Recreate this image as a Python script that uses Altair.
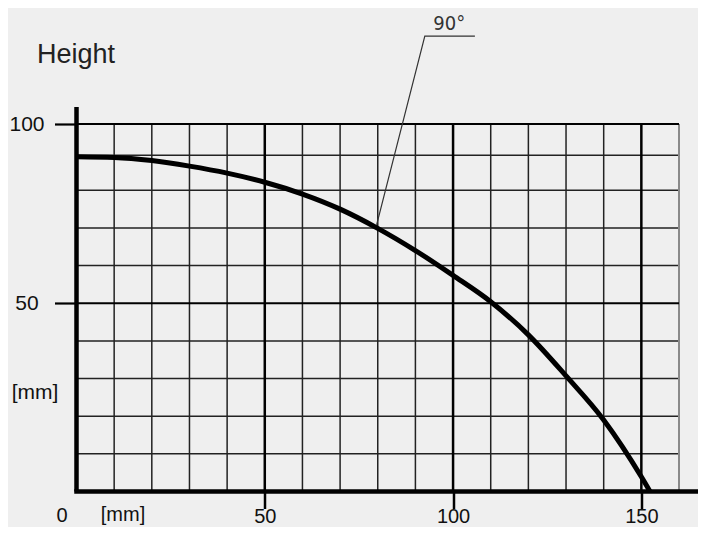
import altair as alt
import pandas as pd

# ---- data ----
dist_mm = [0, 10, 20, 30, 40, 50, 60, 70, 80, 90, 100, 110, 120, 130, 140, 150, 152.3]
height_mm = [89.6, 89.4, 88.5, 86.9, 84.9, 82.3, 79.0, 75.0, 69.9, 64.0, 57.4, 50.4,
             41.6, 30.7, 19.0, 3.9, 0]

x_tick_values = [50, 100, 150]
y_tick_values = [100, 50]

v_grid_thin = [10, 20, 30, 40, 60, 70, 80, 90, 110, 120, 130, 140]
v_grid_thick = [50, 100, 150]
v_grid_edge = [160]
h_grid_thin = [10, 20, 30, 40, 60, 70, 80, 90]
h_grid_thick = [50, 100]

angle_label = ["90°"]
leader_x = [105.8, 92.5, 79.7]
leader_y = [128.1, 128.1, 70.8]

title_text = ["Height"]
unit_text = ["[mm]"]
origin_text = ["0"]

# ---- scales & axes ----
xs = alt.Scale(domain=[0, 160], nice=False, zero=False)
ys = alt.Scale(domain=[0, 80, 90, 100], range=[367.5, 66.3, 31.3, 0], nice=False, zero=False)

FONT = "Liberation Sans, Arial, sans-serif"

xa = alt.Axis(
    values=x_tick_values, domain=False, grid=False, tickSize=17, tickWidth=2.5,
    tickColor="#000000", labelFontSize=20, labelFont=FONT, labelColor="#111111",
    labelPadding=-2, labelFlush=False, title=None)
ya = alt.Axis(
    values=y_tick_values, domain=False, grid=False, tickSize=22, tickWidth=2.2,
    tickColor="#000000", labelFontSize=21, labelFont=FONT, labelColor="#111111",
    labelAlign="center", labelBaseline="middle", labelPadding=28, title=None)

curve_df = pd.DataFrame({"d": dist_mm, "h": height_mm})


def vrules(vals, color, width):
    return alt.Chart(pd.DataFrame({"v": vals})).mark_rule(color=color, strokeWidth=width).encode(
        x=alt.X("v:Q", scale=xs, axis=xa),
        y=alt.YDatum(0, scale=ys, axis=ya),
        y2=alt.datum(100),
    )


def hrules(vals, color, width):
    return alt.Chart(pd.DataFrame({"v": vals})).mark_rule(color=color, strokeWidth=width).encode(
        y=alt.Y("v:Q", scale=ys, axis=ya),
        x=alt.XDatum(0, scale=xs, axis=xa),
        x2=alt.datum(160),
    )


grid = [
    vrules(v_grid_thin, "#222222", 1.5),
    hrules(h_grid_thin, "#222222", 1.5),
    vrules(v_grid_edge, "#8a8a8a", 2),
    vrules(v_grid_thick, "#000000", 2.5),
    hrules(h_grid_thick, "#000000", 2.2),
]

axis_df = pd.DataFrame({"a": [0]})
x_axis_line = alt.Chart(axis_df).mark_rule(color="black", strokeWidth=4.5).encode(
    x=alt.XDatum(-0.6, scale=xs, axis=xa), x2=alt.datum(168),
    y=alt.YDatum(0, scale=ys, axis=ya),
)
y_axis_line = alt.Chart(axis_df).mark_rule(color="black", strokeWidth=4.5).encode(
    x=alt.XDatum(0, scale=xs, axis=xa),
    y=alt.YDatum(0, scale=ys, axis=ya), y2=alt.datum(105.4),
)

curve = alt.Chart(curve_df).mark_line(color="black", strokeWidth=5, interpolate="monotone").encode(
    x=alt.X("d:Q", scale=xs, axis=xa),
    y=alt.Y("h:Q", scale=ys, axis=ya),
)

leader_df = pd.DataFrame({"x": leader_x, "y": leader_y, "o": [0, 1, 2]})
leader = alt.Chart(leader_df).mark_line(color="#333333", strokeWidth=1.2).encode(
    x=alt.X("x:Q", scale=xs, axis=xa),
    y=alt.Y("y:Q", scale=ys, axis=ya),
    order="o:Q",
)


def label(texts, x, y, size, align="center", baseline="middle", font=FONT, color="#111111"):
    return alt.Chart(pd.DataFrame({"t": texts})).mark_text(
        align=align, baseline=baseline, fontSize=size, font=font, color=color
    ).encode(
        text="t:N",
        x=alt.XDatum(x, scale=xs, axis=xa),
        y=alt.YDatum(y, scale=ys, axis=ya),
    )


labels = [
    label(angle_label, 99.0, 130.0, 20, baseline="alphabetic",
          font="Liberation Sans Narrow, DejaVu Sans Condensed, Arial Narrow, Liberation Sans, sans-serif",
          color="#333333"),
    label(title_text, -10.5, 119.5, 27, align="left", baseline="alphabetic", color="#222222"),
    label(unit_text, -11.0, 26.2, 21),
    label(unit_text, 12.35, -6.3, 20),
    label(origin_text, -3.85, -6.5, 20),
]

chart = alt.layer(*grid, x_axis_line, y_axis_line, curve, leader, *labels).properties(
    width=602.5,
    height=367.5,
    padding={"left": 68.5, "top": 116, "right": 19, "bottom": 35.5},
    autosize=alt.AutoSizeParams(type="none"),
    background="#efefef",
).configure_view(stroke=None)

chart.save("out.html", embed_options={"renderer": "svg", "actions": False})
